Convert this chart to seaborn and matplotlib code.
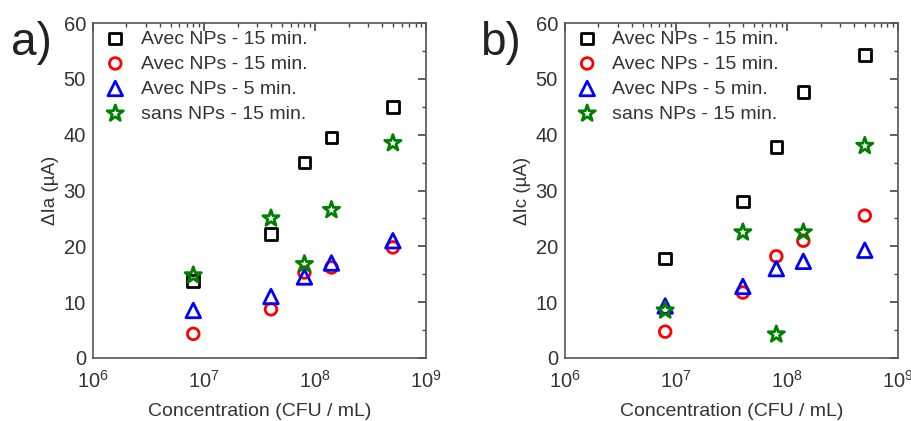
import matplotlib
matplotlib.use("Agg")
import matplotlib.pyplot as plt
import seaborn as sns
import numpy as np
from matplotlib.ticker import LogLocator, NullFormatter, MultipleLocator

# Data
conc = [8e6, 4e7, 8e7, 1.4e8, 5e8]
labels = ["Avec NPs - 15 min.", "Avec NPs - 15 min.", "Avec NPs - 5 min.", "sans NPs - 15 min."]

ia_sq = [13.8, 22.2, 35.0, 39.5, 45.0]
ia_circ = [4.3, 8.7, 15.3, 16.2, 19.8]
ia_tri = [8.5, 11.0, 14.5, 17.0, 21.0]
ia_star = [14.8, 25.0, 16.8, 26.5, 38.5]

ic_sq = [17.8, 28.0, 37.8, 47.7, 54.3]
ic_circ = [4.7, 11.7, 18.2, 21.0, 25.5]
ic_tri = [9.3, 12.8, 16.0, 17.3, 19.3]
ic_star = [8.5, 22.5, 4.2, 22.5, 38.0]

sns.set_theme(style="white")
plt.rcParams["font.family"] = ["Liberation Sans", "DejaVu Sans"]
plt.rcParams["mathtext.default"] = "regular"

styles = [("s", "black", 70), ("o", "red", 70), ("^", "blue", 110), ("*", "green", 150)]

fig = plt.figure(figsize=(9.11, 4.21), dpi=100)
ax_a = fig.add_axes([0.102, 0.150, 0.366, 0.795])
ax_b = fig.add_axes([0.620, 0.150, 0.366, 0.795])


def draw_panel(ax, series, ylabel):
    for (m, c, s), ys, lab in zip(styles, series, labels):
        sns.scatterplot(x=conc, y=ys, ax=ax, marker=m, s=s, facecolor="none",
                        edgecolor=c, linewidth=2, label=lab, zorder=3)
    ax.set_xscale("log")
    ax.set_xlim(1e6, 1e9)
    ax.set_ylim(0, 60)
    ax.xaxis.set_major_locator(LogLocator(base=10, numticks=10))
    ax.xaxis.set_minor_locator(LogLocator(base=10, subs=np.arange(2, 10), numticks=20))
    ax.xaxis.set_minor_formatter(NullFormatter())
    ax.yaxis.set_major_locator(MultipleLocator(10))
    ax.yaxis.set_minor_locator(MultipleLocator(5))
    ax.tick_params(which="both", direction="in", top=True, right=True,
                   colors="#444444", labelcolor="#333333")
    ax.tick_params(which="major", length=6, width=1.2, labelsize=14.5, pad=5)
    ax.tick_params(axis="x", which="major", pad=9)
    ax.tick_params(which="minor", length=3, width=1.0)
    for sp in ax.spines.values():
        sp.set_color("#555555")
        sp.set_linewidth(1.2)
    ax.set_xlabel("Concentration (CFU / mL)", fontsize=14, color="#333333", labelpad=8)
    ax.set_ylabel(ylabel, fontsize=13.5, color="#333333", labelpad=3)
    ax.legend(loc="upper left", frameon=False, fontsize=14, handletextpad=0.5,
              borderaxespad=0.1, borderpad=0.25, labelspacing=0.38,
              labelcolor="#333333", handlelength=1.6)


draw_panel(ax_a, [ia_sq, ia_circ, ia_tri, ia_star], "ΔIa (µA)")
draw_panel(ax_b, [ic_sq, ic_circ, ic_tri, ic_star], "ΔIc (µA)")

fig.text(0.012, 0.87, "a)", fontsize=33, color="#222222")
fig.text(0.527, 0.87, "b)", fontsize=33, color="#222222")

fig.savefig("out.png", dpi=100)
